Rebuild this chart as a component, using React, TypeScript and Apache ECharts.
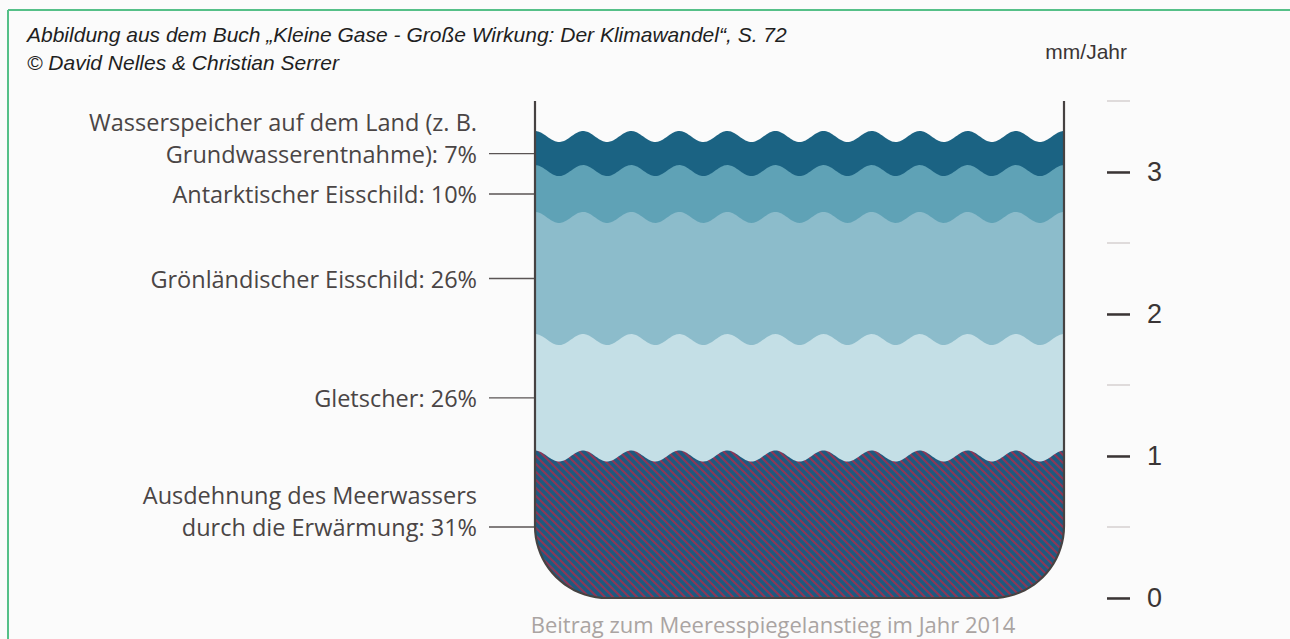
import React, { useEffect, useRef } from "react";
import * as echarts from "echarts";

// ---- data (bottom to top) ----
const categories = [
  "Ausdehnung des Meerwassers\ndurch die Erwärmung",
  "Gletscher",
  "Grönländischer Eisschild",
  "Antarktischer Eisschild",
  "Wasserspeicher auf dem Land (z. B.\nGrundwasserentnahme)",
];
const shares = [31, 26, 26, 10, 7]; // %
const rates = [1.0, 0.82, 0.86, 0.33, 0.24]; // mm/Jahr
const layerColors = ["#1d5a80", "#c4dfe6", "#8cbccb", "#5fa2b6", "#1b6383"];
const hatchColor = "#8a3757";
const majorTicks = [0, 1, 2, 3];
const yMax = 3.5;
const titleLines = [
  "Abbildung aus dem Buch „Kleine Gase - Große Wirkung: Der Klimawandel“, S. 72",
  "© David Nelles & Christian Serrer",
];
const unitLabel = "mm/Jahr";
const caption = "Beitrag zum Meeresspiegelanstieg im Jahr 2014";

const WAVES = 11;
const AMP = 5.5;
const RADIUS = 72;

function hatchPattern(base: string, stripe: string) {
  const s = 8;
  const svg =
    `<svg xmlns='http://www.w3.org/2000/svg' width='${s}' height='${s}'>` +
    `<rect width='${s}' height='${s}' fill='${base}'/>` +
    `<path d='M0,0L${s},${s}M-2,${s - 2}L2,${s + 2}M${s - 2},-2L${s + 2},2' stroke='${stripe}' stroke-width='2.2'/>` +
    `</svg>`;
  return {
    image: "data:image/svg+xml;charset=utf-8," + encodeURIComponent(svg),
    repeat: "repeat",
    imageWidth: s,
    imageHeight: s,
  };
}

function bottomPoints(left: number, right: number, yBottom: number) {
  const pts: number[][] = [];
  const R = RADIUS;
  pts.push([right, yBottom - R]);
  for (let k = 1; k <= 20; k++) {
    const a = ((Math.PI / 2) * k) / 20;
    pts.push([right - R + R * Math.cos(a), yBottom - R + R * Math.sin(a)]);
  }
  for (let k = 0; k <= 20; k++) {
    const a = Math.PI / 2 + ((Math.PI / 2) * k) / 20;
    pts.push([left + R + R * Math.cos(a), yBottom - R + R * Math.sin(a)]);
  }
  return pts;
}

export default function App() {
  const ref = useRef<HTMLDivElement>(null);
  useEffect(() => {
    if (!ref.current) return;
    const chart = echarts.init(ref.current, null, { renderer: "svg" });

    const cum: number[] = [];
    rates.reduce((acc, v, i) => ((cum[i] = acc + v), acc + v), 0);
    const layerData = [4, 3, 2, 1, 0].map((i) => [i, cum[i], cum[i] - rates[i]]);

    const option: any = {
      animation: false,
      backgroundColor: "#fbfbfb",
      title: {
        text: titleLines.join("\n"),
        left: 22,
        top: 15,
        textStyle: {
          fontFamily: "'Liberation Sans', Arial, sans-serif",
          fontStyle: "italic",
          fontWeight: "normal",
          fontSize: 21,
          lineHeight: 28,
          color: "#1f1f1f",
        },
      },
      grid: { left: 535, right: 226, top: 101, bottom: 41 },
      xAxis: { type: "value", min: 0, max: 1, show: false },
      yAxis: [
        {
          type: "value",
          position: "right",
          offset: 43,
          min: 0,
          max: yMax,
          interval: 0.5,
          axisLine: { show: false, onZero: false },
          splitLine: { show: false },
          axisTick: {
            show: true,
            length: 23,
            lineStyle: { color: "#d6d1d1", width: 1.5 },
          },
          axisLabel: { show: false },
        },
        {
          type: "value",
          position: "right",
          offset: 43,
          min: 0,
          max: yMax,
          interval: 0.5,
          axisLine: { show: false, onZero: false },
          splitLine: { show: false },
          axisTick: {
            show: true,
            length: 23,
            customValues: majorTicks,
            lineStyle: { color: "#3a3535", width: 2.5 },
          },
          axisLabel: {
            show: true,
            customValues: majorTicks,
            margin: 40,
            fontSize: 27,
            color: "#3a3535",
            fontFamily: "'Liberation Sans', Arial, sans-serif",
            formatter: (v: number) => String(v),
          },
        },
      ],
      graphic: [
        {
          type: "line",
          shape: { x1: 8, y1: 10, x2: 1290, y2: 10 },
          style: { stroke: "#55c088", lineWidth: 2 },
        },
        {
          type: "line",
          shape: { x1: 8, y1: 10, x2: 8, y2: 639 },
          style: { stroke: "#55c088", lineWidth: 2 },
        },
        {
          type: "text",
          x: 1127,
          y: 51,
          style: {
            text: unitLabel,
            align: "right",
            verticalAlign: "middle",
            fontSize: 21,
            fontFamily: "'Liberation Sans', Arial, sans-serif",
            fill: "#3a3535",
          },
        },
        {
          type: "text",
          x: 773,
          y: 624,
          style: {
            text: caption,
            align: "center",
            verticalAlign: "middle",
            fontSize: 22,
            fontFamily: "'Open Sans', sans-serif",
            fill: "#aaa4a2",
          },
        },
      ],
      series: [
        {
          type: "custom",
          name: "Beitrag",
          xAxisIndex: 0,
          yAxisIndex: 0,
          clip: false,
          data: layerData,
          renderItem: (params: any, api: any) => {
            const i = api.value(0);
            const top = api.value(1);
            const bot = api.value(2);
            const cs = params.coordSys;
            const left = cs.x;
            const right = cs.x + cs.width;
            const yBottom = api.coord([0, 0])[1];
            const yTop = api.coord([0, top])[1];
            const P = cs.width / WAVES;
            const pts: number[][] = [];
            for (let x = left; x < right; x += 1) {
              pts.push([x, yTop - AMP * Math.cos((2 * Math.PI * (x - left)) / P)]);
            }
            pts.push([right, yTop - AMP * Math.cos(2 * Math.PI * WAVES)]);
            const all = pts.concat(bottomPoints(left, right, yBottom));
            const fill = i === 0 ? hatchPattern(layerColors[0], hatchColor) : layerColors[i];
            const yMid = api.coord([0, (top + bot) / 2])[1];
            const lh = 32;
            return {
              type: "group",
              children: [
                {
                  type: "polygon",
                  shape: { points: all },
                  style: { fill },
                },
                {
                  type: "line",
                  shape: { x1: left - 46, y1: yMid, x2: left, y2: yMid },
                  style: { stroke: "#5a5454", lineWidth: 1.3 },
                },
                {
                  type: "text",
                  x: left - 58,
                  y: yMid + lh / 2,
                  style: {
                    text: `${categories[i]}: ${shares[i]}%`,
                    align: "right",
                    verticalAlign: "bottom",
                    lineHeight: lh,
                    fontSize: 23.5,
                    fontFamily: "'Open Sans', sans-serif",
                    fill: "#4a4545",
                  },
                },
              ],
            };
          },
        },
        {
          type: "custom",
          name: "Gefäß",
          xAxisIndex: 0,
          yAxisIndex: 0,
          clip: false,
          z: 5,
          data: [[0, yMax]],
          renderItem: (params: any, api: any) => {
            const cs = params.coordSys;
            const left = cs.x;
            const right = cs.x + cs.width;
            const yBottom = api.coord([0, 0])[1];
            const yTop = api.coord([0, api.value(1)])[1];
            const pts = [[right, yTop]].concat(bottomPoints(left, right, yBottom));
            pts.push([left, yTop]);
            return {
              type: "polyline",
              shape: { points: pts },
              style: { stroke: "#464242", lineWidth: 2.2, fill: "none" },
            };
          },
        },
      ],
    };
    chart.setOption(option);
    return () => chart.dispose();
  }, []);
  return (
    <div
      ref={ref}
      style={{ position: "fixed", left: 0, top: 0, width: 1290, height: 639 }}
    />
  );
}
